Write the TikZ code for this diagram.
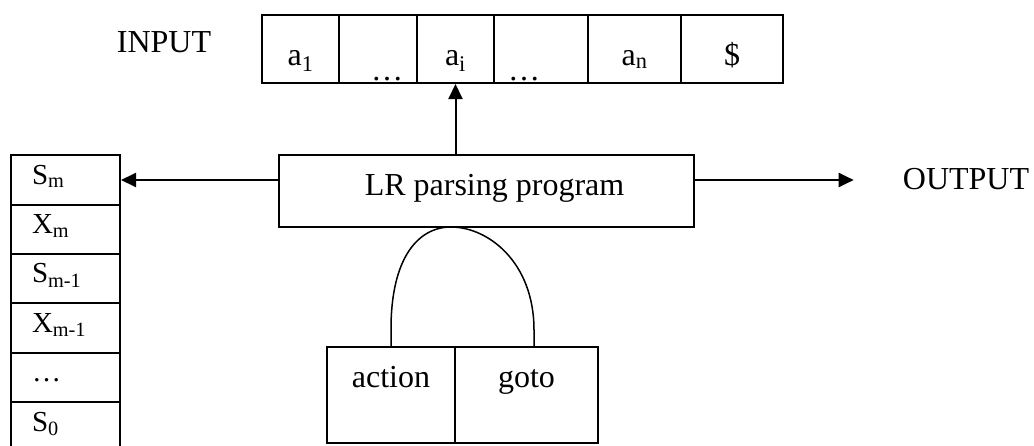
\documentclass[tikz,border=0pt]{standalone}
\usepackage{fontspec}
\setmainfont{Liberation Serif}
\usetikzlibrary{arrows.meta}

\tikzset{
    box/.style={draw, line width=2pt, inner sep=0pt},
    cell/.style={box, minimum width=#1, minimum height=68pt, text height=32pt, text depth=0pt},
    dotcell/.style={box, minimum width=#1, minimum height=68pt, text height=62pt, text depth=0pt},
    stackcell/.style={box, minimum width=109pt, minimum height=49.5pt, text width=67pt, align=left,
        inner xsep=21pt, text height=12pt, text depth=4pt, font=\fontsize{29pt}{34pt}\selectfont},
    tablecell/.style={box, minimum width=#1, minimum height=96pt, text height=0pt, text depth=16pt},
    word/.style={inner sep=0pt, anchor=base},
    arr/.style={line width=2pt, -{Triangle[length=15pt, width=14pt]}}
}

\begin{document}
\begin{tikzpicture}[x=1pt, y=-1pt, font=\fontsize{32pt}{38pt}\selectfont]
        \useasboundingbox (0,0) rectangle (1034,445);

        % input tape
        \node[word] (input) at (164,52) {INPUT};
        \node[cell=77pt]    (c1) at (300.5,49) {a\textsubscript{1}};
        \node[dotcell=78pt] (c2) at (378,49)   {\hspace*{18pt}…};
        \node[cell=77pt]    (c3) at (455.5,49) {a\textsubscript{i}};
        \node[dotcell=94pt] (c4) at (541,49)   {…\hspace*{34pt}};
        \node[cell=93pt]    (c5) at (634.5,49) {a\textsubscript{n}};
        \node[cell=102pt]   (c6) at (732,49)   {\$};

        % stack
        \node[stackcell] (sm)   at (65.5,180)   {S\textsubscript{m}};
        \node[stackcell] (xm)   at (65.5,229.5) {X\textsubscript{m}};
        \node[stackcell] (sm1)  at (65.5,278.5) {S\textsubscript{m-1}};
        \node[stackcell] (xm1)  at (65.5,328)   {X\textsubscript{m-1}};
        \node[stackcell] (sdot) at (65.5,377.5) {…};
        \node[stackcell] (s0)   at (65.5,427)   {S\textsubscript{0}};

        % parser and parsing table
        \node[box, minimum width=415pt, minimum height=72pt, text height=12pt, text depth=4pt]
            (lr) at (486.5,191) {\hspace*{16pt}LR parsing program};
        \node[tablecell=128pt] (act)  at (391,395)   {action};
        \node[tablecell=143pt] (goto) at (526.5,395) {goto};
        \node[word] (output) at (966,189) {OUTPUT};

        % arrows
        \draw[arr] (c3.south |- lr.north) -- (c3.south);
        \draw[arr] (lr.west |- sm) -- (sm.east);
        \draw[arr, shorten >=49pt] (lr.east |- sm) -- (output.west |- sm);

        % link from the table to the program
        \draw[line width=1.5pt] (act.north) -- ++(0,-17)
            .. controls (391,258) and (418,227) .. (451,227)
            .. controls (488,227) and (534,262) .. (534,330) -- ([xshift=7.5pt]goto.north);
    \end{tikzpicture}
\end{document}
